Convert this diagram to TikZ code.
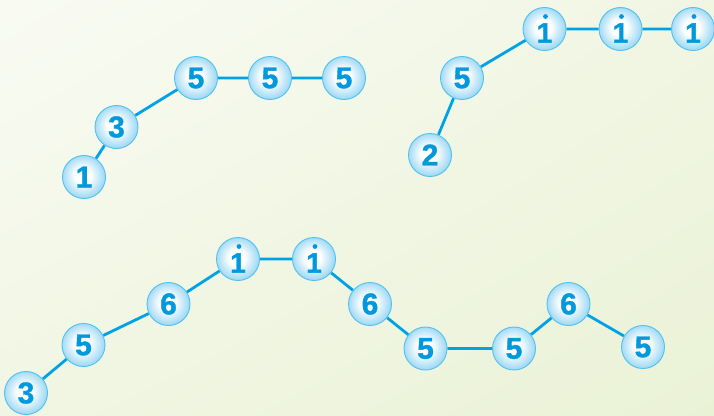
\documentclass[tikz,border=0pt]{standalone}
\usepackage{fontspec}
\setmainfont{Liberation Sans}
\newfontfamily\numfont{Liberation Sans}[UprightFont=*-Bold, FakeBold=1.2]
\usetikzlibrary{shadings}
\definecolor{bgA}{HTML}{F9FBF3}
\definecolor{bgB}{HTML}{F1F6E3}
\definecolor{bgC}{HTML}{EAF2D6}
\definecolor{lineblue}{HTML}{00A2E6}
\definecolor{txtblue}{HTML}{0099DE}
\definecolor{ringblue}{HTML}{4FC2EF}
\definecolor{ballout}{HTML}{9FD9F5}
\pgfdeclareradialshading{ballshade}{\pgfpoint{-2bp}{2bp}}{%
  color(0bp)=(white); color(9bp)=(white); color(25bp)=(ballout); color(50bp)=(ballout)}
\pgfdeclarelayer{back}
\pgfdeclarelayer{mid}
\pgfsetlayers{back,mid,main}
\tikzset{
  ball/.style={circle, minimum size=43pt, inner sep=0pt, draw=ringblue, line width=0.9pt,
    shading=ballshade, text=txtblue,
    font=\numfont\fontsize{30}{30}\selectfont},
  hiball/.style={ball, font=\numfont\fontsize{28}{28}\selectfont},
  conn/.style={draw=lineblue, line width=2.8pt},
  hidot/.style={fill=txtblue},
}
\newcommand{\hione}{\smash{\raisebox{-4pt}{1}}\vphantom{1}}
\begin{document}
\begin{tikzpicture}[x=1pt,y=-1pt]
\begin{pgfonlayer}{back}
\shade[upper left=bgA, upper right=bgB, lower left=bgB, lower right=bgC] (0,0) rectangle (714,415);
\end{pgfonlayer}
\useasboundingbox (0,0) rectangle (714,415);
% group 1
\node[ball] (a1) at (84,177) {1};
\node[ball] (a2) at (116.5,127) {3};
\node[ball] (a3) at (196,78) {5};
\node[ball] (a4) at (270,78) {5};
\node[ball] (a5) at (344,78) {5};
% group 2
\node[ball] (b1) at (430,155) {2};
\node[ball] (b2) at (462,78) {5};
\node[hiball] (b3) at (544.5,29) {\hione};
\node[hiball] (b4) at (620.5,29) {\hione};
\node[hiball] (b5) at (693,29) {\hione};
% group 3
\node[ball] (c1) at (26,393) {3};
\node[ball] (c2) at (83.5,345) {5};
\node[ball] (c3) at (168.5,304) {6};
\node[hiball] (c4) at (238,259) {\hione};
\node[hiball] (c5) at (314,259) {\hione};
\node[ball] (c6) at (370,304) {6};
\node[ball] (c7) at (425.5,348.5) {5};
\node[ball] (c8) at (514,348.5) {5};
\node[ball] (c9) at (568.5,304) {6};
\node[ball] (c10) at (643,347) {5};
% dots of high notes
\foreach \n in {b3,b4,b5,c4,c5}
  \fill[hidot] (\n) ++(1,-12.5) circle (2.4pt);
\begin{pgfonlayer}{mid}
\draw[conn] (a1) -- (a2) (a2) -- (a3) (a3) -- (a4) (a4) -- (a5);
\draw[conn] (b1) -- (b2) (b2) -- (b3) (b3) -- (b4) (b4) -- (b5);
\draw[conn] (c1) -- (c2) (c2) -- (c3) (c3) -- (c4) (c4) -- (c5) (c5) -- (c6) (c6) -- (c7) (c7) -- (c8) (c8) -- (c9) (c9) -- (c10);
\end{pgfonlayer}
\end{tikzpicture}
\end{document}
